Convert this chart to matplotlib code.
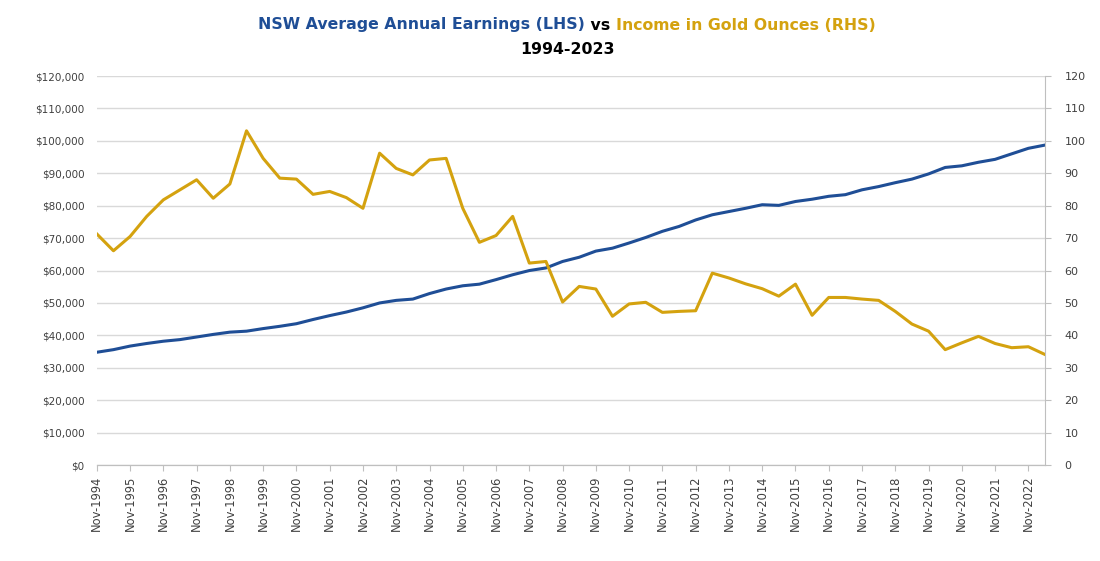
import matplotlib
matplotlib.use("Agg")
import matplotlib.pyplot as plt
import numpy as np

# Semi-annual observations Nov-1994 .. May-2023
earnings_k = [34.8, 35.6, 36.7, 37.5, 38.2, 38.7, 39.5, 40.3, 41.0, 41.3,
              42.1, 42.8, 43.6, 44.9, 46.1, 47.2, 48.5, 50.0, 50.8, 51.2,
              52.9, 54.3, 55.3, 55.8, 57.2, 58.7, 60.0, 60.8, 62.8, 64.1,
              66.0, 66.9, 68.5, 70.2, 72.1, 73.6, 75.6, 77.2, 78.2, 79.2,
              80.3, 80.1, 81.3, 82.0, 82.9, 83.4, 84.9, 85.9, 87.1, 88.2,
              89.8, 91.8, 92.3, 93.4, 94.3, 96.0, 97.7, 98.7]
gold_oz = [71.3, 66.1, 70.5, 76.7, 81.8, 84.9, 88.0, 82.3, 86.7, 103.1,
           94.6, 88.5, 88.2, 83.5, 84.4, 82.5, 79.2, 96.2, 91.5, 89.5,
           94.1, 94.6, 79.2, 68.7, 70.8, 76.7, 62.3, 62.8, 50.3, 55.1,
           54.3, 45.9, 49.7, 50.2, 47.1, 47.4, 47.6, 59.2, 57.7, 55.9,
           54.4, 52.1, 55.8, 46.2, 51.7, 51.7, 51.2, 50.8, 47.4, 43.5,
           41.3, 35.6, 37.7, 39.7, 37.5, 36.2, 36.5, 34.1]
tick_labels = [f"Nov-{y}" for y in range(1994, 2023)]

earnings = [v * 1000 for v in earnings_k]
x = np.arange(len(earnings))

BLUE = "#1F4E96"
GOLD = "#D4A20F"
GRID = "#D9D9D9"
TXT = "#404040"

fig = plt.figure(figsize=(11, 5.61), dpi=100)
ax = fig.add_axes([0.088, 0.171, 0.862, 0.6935])
ax2 = ax.twinx()

ax.plot(x, earnings, color=BLUE, lw=2.2, zorder=3)
ax2.plot(x, gold_oz, color=GOLD, lw=2.2, zorder=3)

ax.set_xlim(0, len(x) - 1)
ax.set_ylim(0, 120000)
ax2.set_ylim(0, 120)
ax.set_yticks(np.arange(0, 120001, 10000))
ax.set_yticklabels([f"${v:,.0f}" for v in np.arange(0, 120001, 10000)])
ax2.set_yticks(np.arange(0, 121, 10))
ax.set_xticks(x[::2])
ax.set_xticklabels(tick_labels, rotation=90)

ax.grid(axis="y", color=GRID, lw=1.0)
ax.set_axisbelow(True)
for a in (ax, ax2):
    for s in ("top", "left"):
        a.spines[s].set_visible(False)
    a.spines["bottom"].set_color("#BFBFBF")
    a.spines["right"].set_color("#BFBFBF")
ax2.spines["right"].set_visible(True)
ax.spines["right"].set_visible(False)

ax.tick_params(axis="y", length=0, labelsize=7.5, labelcolor=TXT, pad=9)
ax.tick_params(axis="x", length=4, color="#BFBFBF", labelsize=8.3, labelcolor=TXT)
ax2.tick_params(axis="y", length=4, color="#BFBFBF", labelsize=8, labelcolor=TXT, pad=10)

# Title with coloured parts
fig.canvas.draw()
r = fig.canvas.get_renderer()
parts = [("NSW Average Annual Earnings (LHS)", BLUE), (" vs ", "#000000"),
         ("Income in Gold Ounces (RHS)", GOLD)]
fs = 11.3
texts = []
for s, c in parts:
    t = fig.text(0, 1 - 25 / 561, s, color=c, fontsize=fs, fontweight="bold",
                 va="center", ha="left")
    texts.append(t)
widths = [t.get_window_extent(r).width for t in texts]
total = sum(widths)
cx = 567 / 1100 * fig.bbox.width
start = cx - total / 2
for t, w in zip(texts, widths):
    t.set_x(start / fig.bbox.width)
    start += w
fig.text(567 / 1100, 1 - 50 / 561, "1994-2023", color="#000000", fontsize=fs,
         fontweight="bold", ha="center", va="center")

fig.savefig("out.png", dpi=100)
